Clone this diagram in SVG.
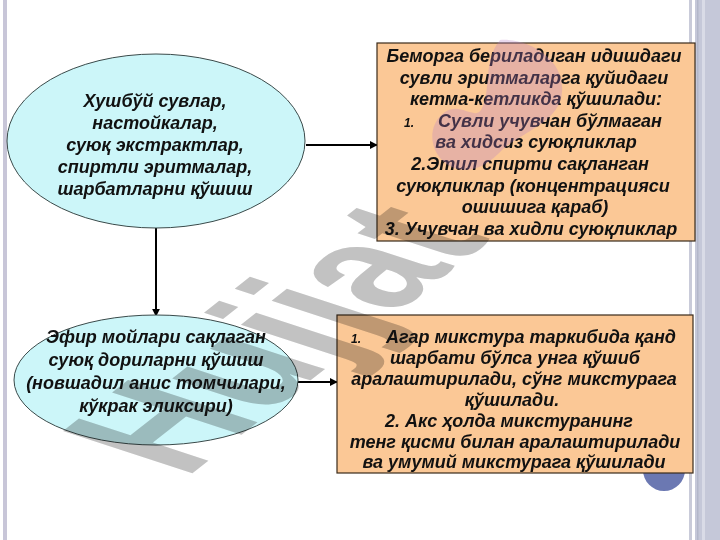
<svg xmlns="http://www.w3.org/2000/svg" width="720" height="540" viewBox="0 0 720 540">
<style>
.t{font-family:"Liberation Sans",Arial,sans-serif;font-weight:bold;font-style:italic;font-size:18px;fill:#111;text-anchor:middle}
.n{font-size:12px}
.ell{fill:#ccf6f9;stroke:#3a4a4a;stroke-width:1}
.box{fill:#fbc896;stroke:#3a2a1a;stroke-width:1.2}
.ln{stroke:#000;stroke-width:2;fill:none}
</style>
<defs>
<marker id="ah" viewBox="0 0 10 10" refX="9" refY="5" markerWidth="4" markerHeight="4" orient="auto" markerUnits="strokeWidth">
<path d="M0,0 L10,5 L0,10 Z" fill="#000"/>
</marker>
</defs>
<rect width="720" height="540" fill="#fff"/>
<g id="frame">
<rect x="3" y="0" width="4" height="540" fill="#c8c6d8"/>
<rect x="689" y="0" width="3" height="540" fill="#c9cbd9"/>
<rect x="695" y="0" width="25" height="540" fill="#c5c8d9"/>
<rect x="697" y="0" width="1.5" height="540" fill="#b3b7ca"/>
<rect x="702" y="0" width="3" height="540" fill="#d9dbe7"/>
<circle cx="664" cy="470" r="21" fill="#6b78b2"/>
</g>
<g id="connectors">
<line class="ln" x1="156" y1="228" x2="156" y2="316" marker-end="url(#ah)"/>
<line class="ln" x1="306" y1="145" x2="377" y2="145" marker-end="url(#ah)"/>
<line class="ln" x1="298" y1="382" x2="337" y2="382" marker-end="url(#ah)"/>
</g>
<g id="node-top-ellipse">
<ellipse class="ell" cx="156" cy="141" rx="149" ry="87"/>
</g>
<g id="node-bottom-ellipse">
<ellipse class="ell" cx="156" cy="380" rx="142" ry="65"/>
</g>
<g id="node-top-box">
<rect class="box" x="377" y="43" width="318" height="198"/>
</g>
<g id="node-bottom-box">
<rect class="box" x="337" y="315" width="356" height="158"/>
</g>
<g id="watermark" style="mix-blend-mode:multiply">
<text x="0" y="0" transform="matrix(1.106,-0.868,1.881,0.614,185,479)" style="font-family:'Liberation Sans',Arial,sans-serif;font-weight:bold;font-size:100px;fill:#c2c2c2">Hujjat</text>
</g>
<g id="texts">
<text class="t"><tspan x="155" y="107">Хушбўй сувлар,</tspan><tspan x="155" y="129">настойкалар,</tspan><tspan x="155" y="151">суюқ экстрактлар,</tspan><tspan x="155" y="173">спиртли эритмалар,</tspan><tspan x="155" y="195">шарбатларни қўшиш</tspan></text>
<text class="t"><tspan x="156" y="343">Эфир мойлари сақлаган</tspan><tspan x="156" y="366">суюқ дориларни қўшиш</tspan><tspan x="156" y="389">(новшадил анис томчилари,</tspan><tspan x="156" y="412">кўкрак эликсири)</tspan></text>
<text class="t"><tspan x="534" y="62">Беморга бериладиган идишдаги</tspan><tspan x="534" y="83.6">сувли эритмаларга қуйидаги</tspan><tspan x="536" y="105.2">кетма-кетликда қўшилади:</tspan><tspan class="n" x="409" y="126.8">1.</tspan><tspan x="550" y="126.8">Сувли учувчан бўлмаган</tspan><tspan x="536" y="148.4">ва хидсиз суюқликлар</tspan><tspan x="530" y="170">2.Этил спирти сақланган</tspan><tspan x="533" y="191.6">суюқликлар (концентрацияси</tspan><tspan x="535" y="213.2">ошишига қараб)</tspan><tspan x="531" y="234.8">3. Учувчан ва хидли суюқликлар</tspan></text>
<text class="t"><tspan class="n" x="356" y="343">1.</tspan><tspan x="531" y="343">Агар микстура таркибида қанд</tspan><tspan x="515" y="364">шарбати бўлса унга қўшиб</tspan><tspan x="514" y="385">аралаштирилади, сўнг микстурага</tspan><tspan x="512" y="406">қўшилади.</tspan><tspan x="509" y="427">2. Акс ҳолда микстуранинг</tspan><tspan x="515" y="448">тенг қисми билан аралаштирилади</tspan><tspan x="514" y="468">ва умумий микстурага қўшилади</tspan></text>
</g>
<g id="logo-overlay">
<path d="M500,40 C530,38 565,60 562,92 C560,122 522,132 502,150 C488,165 470,176 450,166 C430,156 425,126 445,112 C460,102 474,120 481,110 C492,92 482,62 500,40 Z" fill="#b882c8" opacity="0.3"/>
</g>
</svg>
